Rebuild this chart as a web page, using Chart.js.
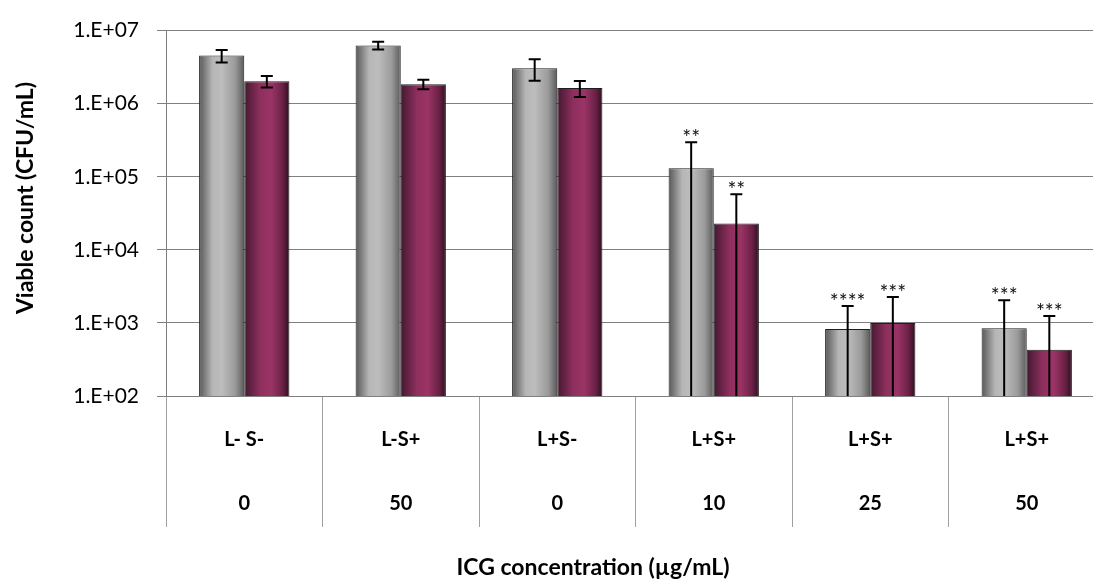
<!DOCTYPE html>
<html>
<head>
<meta charset="utf-8">
<script src="https://cdn.jsdelivr.net/npm/chart.js@4/dist/chart.umd.min.js"></script>
<style>
  html, body { margin: 0; padding: 0; background: #fff; overflow: hidden; }
  #wrap { width: 1110px; height: 585px; }
</style>
</head>
<body>
<div id="wrap"><canvas id="chart" width="1110" height="585"></canvas></div>
<script>
// treatment (laser / sensitiser) and ICG concentration rows on the x axis
const treatments = ["L- S-", "L-S+", "L+S-", "L+S+", "L+S+", "L+S+"];
const concentrations = ["0", "50", "0", "10", "25", "50"];

// viable counts (CFU/mL) and their error bars
const greyCounts = [4.55e6, 6.27e6, 3.06e6, 1.31e5, 823, 848];
const greyErrors = [0.88e6, 0.75e6, 1.0e6, 1.66e5, 875, 1200];
const purpleCounts = [2.03e6, 1.85e6, 1.64e6, 2.3e4, 1000, 428];
const purpleErrors = [0.37e6, 0.27e6, 0.41e6, 3.47e4, 1266, 817];

// significance marks
const greyStars = ["", "", "", "**", "****", "***"];
const purpleStars = ["", "", "", "**", "***", "***"];

const yTicks = [1e2, 1e3, 1e4, 1e5, 1e6, 1e7];

const FONT = "Lato, 'Open Sans', sans-serif";
const CAT_PCT = 0.577;

const gradStops = [
  [[0, "#575757"], [0.3, "#b6b6b6"], [0.5, "#bdbdbd"], [0.8, "#9a9a9a"], [1, "#5a5a5a"]],
  [[0, "#431930"], [0.35, "#8e2f5e"], [0.6, "#9b3466"], [0.85, "#6a2145"], [1, "#2c0f1f"]]
];
const fallback = ["#a0a0a0", "#8e2f5e"];

function barFill(context) {
  const chart = context.chart;
  const xs = chart.scales.x;
  if (!chart.chartArea || !xs || context.dataIndex === undefined) return fallback[context.datasetIndex];
  const bw = xs.width / treatments.length * CAT_PCT / 2;
  const cx = xs.getPixelForValue(context.dataIndex);
  const left = context.datasetIndex === 0 ? cx - bw : cx;
  const g = chart.ctx.createLinearGradient(left, 0, left + bw, 0);
  gradStops[context.datasetIndex].forEach(s => g.addColorStop(s[0], s[1]));
  return g;
}

const errorBars = {
  id: "errorBars",
  afterDatasetsDraw(chart) {
    const ctx = chart.ctx;
    const ys = chart.scales.y;
    const errs = [greyErrors, purpleErrors];
    const stars = [greyStars, purpleStars];
    const bottom = chart.chartArea.bottom;
    ctx.save();
    chart.data.datasets.forEach((ds, di) => {
      chart.getDatasetMeta(di).data.forEach((bar, i) => {
        const v = ds.data[i], e = errs[di][i];
        const top = ys.getPixelForValue(v + e);
        const low = v - e > 0 ? ys.getPixelForValue(v - e) : bottom;
        ctx.strokeStyle = "#000";
        ctx.lineWidth = 2;
        ctx.beginPath();
        ctx.moveTo(bar.x, top);
        ctx.lineTo(bar.x, low);
        ctx.moveTo(bar.x - 6, top);
        ctx.lineTo(bar.x + 6, top);
        if (v - e > 0) {
          ctx.moveTo(bar.x - 6, low);
          ctx.lineTo(bar.x + 6, low);
        }
        ctx.stroke();
        if (stars[di][i]) {
          ctx.fillStyle = "#111";
          ctx.font = "21px " + FONT;
          ctx.textAlign = "center";
          ctx.textBaseline = "alphabetic";
          ctx.fillText(stars[di][i], bar.x, top + 3);
        }
      });
    });
    ctx.restore();
  }
};

const axisTitles = {
  id: "axisTitles",
  afterDraw(chart) {
    const ctx = chart.ctx;
    ctx.save();
    ctx.fillStyle = "#000";
    ctx.font = "bold 23px " + FONT;
    ctx.textAlign = "center";
    ctx.textBaseline = "middle";
    ctx.fillText("ICG concentration (µg/mL)", 593, 568);
    ctx.translate(26, 198);
    ctx.rotate(-Math.PI / 2);
    ctx.fillText("Viable count (CFU/mL)", 0, 0);
    ctx.restore();
  }
};

new Chart(document.getElementById("chart").getContext("2d"), {
  type: "bar",
  data: {
    labels: treatments.map((t, i) => [t, concentrations[i]]),
    datasets: [
      { data: greyCounts, backgroundColor: barFill, borderColor: "#1e1e1e", borderWidth: 1 },
      { data: purpleCounts, backgroundColor: barFill, borderColor: "#1e1e1e", borderWidth: 1 }
    ]
  },
  options: {
    responsive: false,
    animation: false,
    layout: { padding: { top: 26, right: 5, left: 0, bottom: 0 } },
    datasets: { bar: { categoryPercentage: CAT_PCT, barPercentage: 1 } },
    plugins: { legend: { display: false }, tooltip: { enabled: false } },
    scales: {
      x: {
        afterFit(scale) { scale.height = 189; },
        border: { color: "#808080", width: 1 },
        grid: { offset: true, drawOnChartArea: false, tickLength: 131, color: "#a0a0a0", lineWidth: 1 },
        ticks: {
          autoSkip: false, maxRotation: 0, padding: -119,
          color: "#000",
          font: { family: FONT, size: 20, weight: "bold", lineHeight: 64 / 20 }
        }
      },
      y: {
        type: "logarithmic",
        min: 1e2,
        max: 1e7,
        afterFit(scale) { scale.width = 166; },
        afterBuildTicks(scale) { scale.ticks = yTicks.map(v => ({ value: v })); },
        border: { color: "#808080", width: 1 },
        grid: { color: "#808080", lineWidth: 1, tickLength: 9 },
        ticks: {
          padding: 18,
          color: "#000",
          font: { family: FONT, size: 21 },
          callback: v => "1.E+" + String(Math.round(Math.log10(v))).padStart(2, "0")
        }
      }
    }
  },
  plugins: [errorBars, axisTitles]
});
</script>
</body>
</html>
